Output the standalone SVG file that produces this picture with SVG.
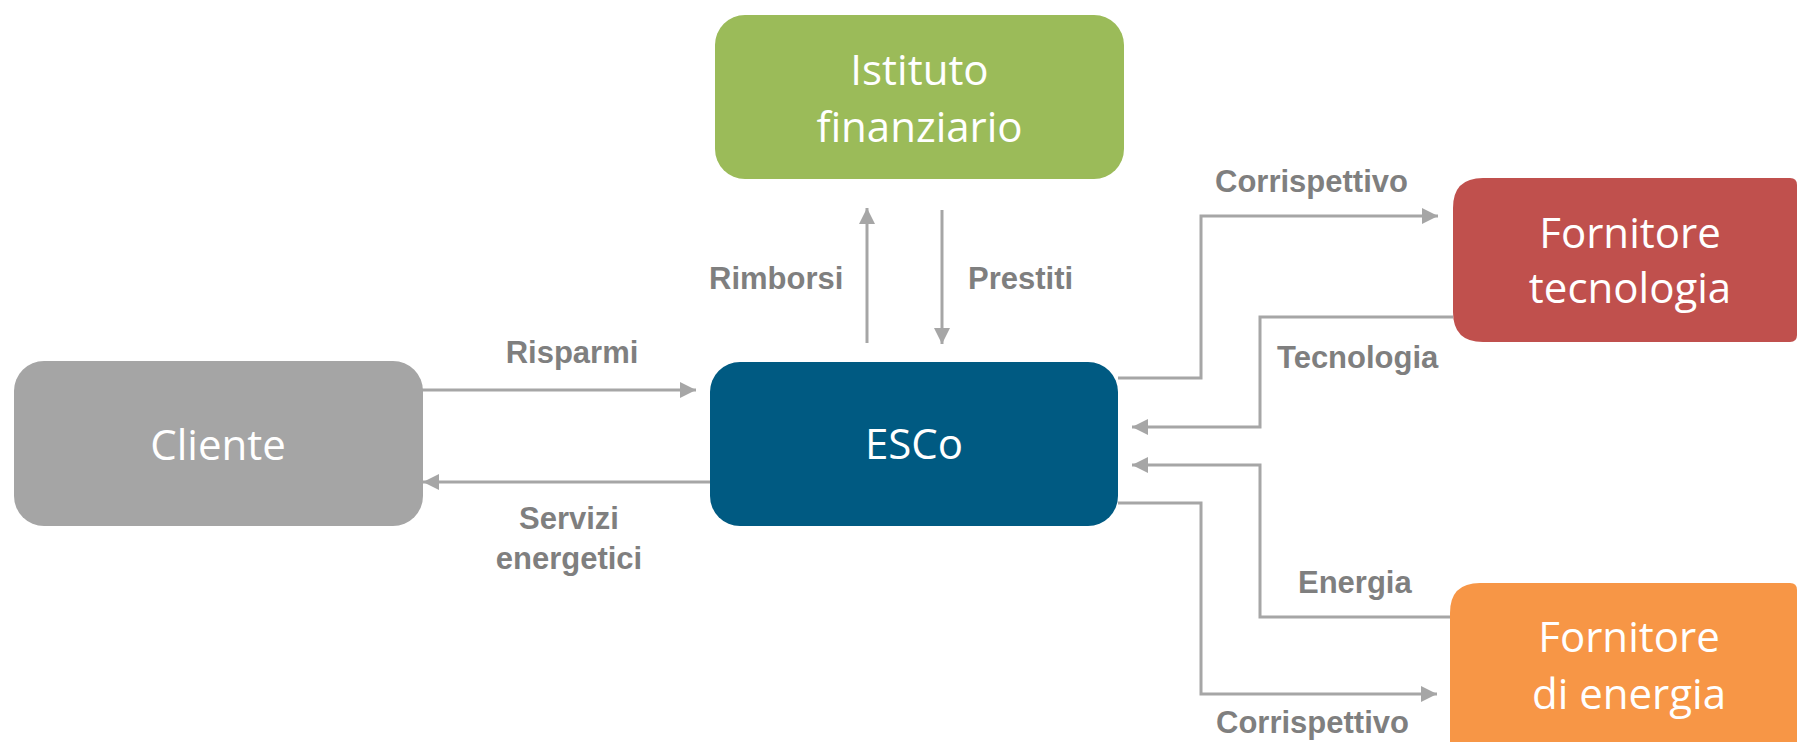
<svg xmlns="http://www.w3.org/2000/svg" width="1798" height="742" viewBox="0 0 1798 742">
  <style>
    .node-text { font-family: "Open Sans", "Noto Sans", sans-serif; font-size: 42px; fill: #FFFFFF; text-anchor: middle; }
    .label { font-family: "Liberation Sans", Arial, sans-serif; font-weight: bold; font-size: 31px; fill: #7F7F7F; }
    .conn { fill: none; stroke: #A6A6A6; stroke-width: 3; marker-end: url(#ah); }
  </style>
  <defs>
    <marker id="ah" markerUnits="userSpaceOnUse" markerWidth="16" markerHeight="16" refX="16" refY="8" orient="auto">
      <path d="M0,0 L16,8 L0,16 z" fill="#A6A6A6"/>
    </marker>
  </defs>
  <rect width="1798" height="742" fill="#FFFFFF"/>

  <g id="connectors">
    <path class="conn" d="M422,390 H696"/>
    <path class="conn" d="M710,482 H423"/>
    <path class="conn" d="M867,343 V208"/>
    <path class="conn" d="M942,210 V344"/>
    <path class="conn" d="M1118,378 H1201 V216 H1438"/>
    <path class="conn" d="M1453,317 H1260 V427 H1132"/>
    <path class="conn" d="M1450,617 H1260 V465 H1132"/>
    <path class="conn" d="M1118,503 H1201 V694 H1437"/>
  </g>

  <g id="labels">
    <text class="label" x="572" y="363" text-anchor="middle">Risparmi</text>
    <text class="label" x="569" y="529" text-anchor="middle">Servizi</text>
    <text class="label" x="569" y="569" text-anchor="middle">energetici</text>
    <text class="label" x="709" y="289">Rimborsi</text>
    <text class="label" x="968" y="289">Prestiti</text>
    <text class="label" x="1215" y="192">Corrispettivo</text>
    <text class="label" x="1277" y="368">Tecnologia</text>
    <text class="label" x="1298" y="593">Energia</text>
    <text class="label" x="1216" y="733">Corrispettivo</text>
  </g>

  <g id="istituto">
    <rect x="715" y="15" width="409" height="164" rx="30" fill="#9BBB59"/>
    <text class="node-text" x="919.5" y="85">Istituto</text>
    <text class="node-text" x="919.5" y="142">finanziario</text>
  </g>

  <g id="cliente">
    <rect x="14" y="361" width="409" height="165" rx="30" fill="#A5A5A5"/>
    <text class="node-text" x="218" y="460">Cliente</text>
  </g>

  <g id="esco">
    <rect x="710" y="362" width="408" height="164" rx="30" fill="#005A82"/>
    <text class="node-text" x="914" y="459">ESCo</text>
  </g>

  <g id="fornitore-tecnologia">
    <path d="M1483,178 H1790 Q1797,178 1797,185 V335 Q1797,342 1790,342 H1483 Q1453,342 1453,312 V208 Q1453,178 1483,178 Z" fill="#C0504D"/>
    <text class="node-text" x="1630" y="248">Fornitore</text>
    <text class="node-text" x="1630" y="303">tecnologia</text>
  </g>

  <g id="fornitore-energia">
    <path d="M1480,583 H1790 Q1797,583 1797,590 V760 H1450 V613 Q1450,583 1480,583 Z" fill="#F79646"/>
    <text class="node-text" x="1629" y="652">Fornitore</text>
    <text class="node-text" x="1629" y="709">di energia</text>
  </g>
</svg>
